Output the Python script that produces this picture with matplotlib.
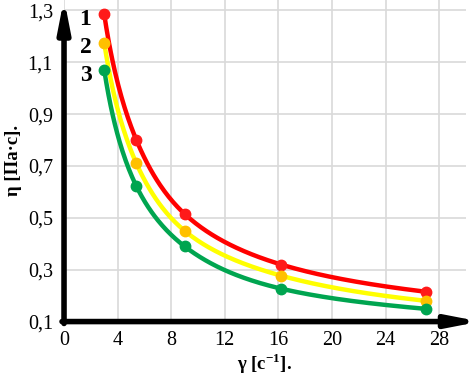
import numpy as np
import matplotlib
matplotlib.use('Agg')
import matplotlib.pyplot as plt

# shear rate, 1/s
gamma = [3.0, 5.4, 9.0, 16.2, 27.0]
# viscosity, Pa*s
eta_1 = [1.285, 0.80, 0.515, 0.32, 0.215]
eta_2 = [1.175, 0.71, 0.45, 0.277, 0.18]
eta_3 = [1.07, 0.622, 0.39, 0.227, 0.149]
curve_names = ['1', '2', '3']

x_ticks = [0, 4, 8, 12, 16, 20, 24, 28]
y_ticks = [0.1, 0.3, 0.5, 0.7, 0.9, 1.1, 1.3]


def pchip(x, y, xs):
    # monotone cubic (Fritsch-Carlson), only used to draw a smooth line
    x = np.asarray(x, float)
    y = np.asarray(y, float)
    h = np.diff(x)
    d = np.diff(y) / h
    m = np.zeros_like(y)
    for k in range(1, len(x) - 1):
        if d[k - 1] * d[k] > 0:
            w1 = 2 * h[k] + h[k - 1]
            w2 = h[k] + 2 * h[k - 1]
            m[k] = (w1 + w2) / (w1 / d[k - 1] + w2 / d[k])
    m[0] = d[0]
    m[-1] = d[-1]
    out = np.empty_like(xs)
    for i, xv in enumerate(xs):
        k = min(np.searchsorted(x, xv, side='right') - 1, len(x) - 2)
        t = (xv - x[k]) / h[k]
        h00 = 2 * t**3 - 3 * t**2 + 1
        h10 = t**3 - 2 * t**2 + t
        h01 = -2 * t**3 + 3 * t**2
        h11 = t**3 - t**2
        out[i] = h00 * y[k] + h10 * h[k] * m[k] + h01 * y[k + 1] + h11 * h[k] * m[k + 1]
    return out


plt.rcParams['font.family'] = ['Liberation Serif', 'DejaVu Serif']

fig = plt.figure(figsize=(4.76, 3.81), dpi=100)
ax = fig.add_axes([0.1345, 0.156, 0.8445, 0.844])

xs = np.linspace(gamma[0], gamma[-1], 300)
series = [(eta_1, '#ff0000', '#ff1a1a'),
          (eta_2, '#ffff00', '#ffc000'),
          (eta_3, '#00a550', '#00a550')]
for eta, lc, mc in series:
    ys = np.exp(pchip(np.log(gamma), np.log(eta), np.log(xs)))
    ax.plot(xs, ys, color=lc, lw=3.2, zorder=3)
    ax.plot(gamma, eta, 'o', color=mc, ms=7.5, zorder=4)

for name, eta in zip(curve_names, [eta_1, eta_2, eta_3]):
    ax.text(1.6, eta[0] - 0.02, name, fontsize=17, fontweight='bold',
            ha='center', va='center')

ax.set_xlim(0, 30)
ax.set_ylim(0.1, 1.34)
ax.set_xticks(x_ticks)
ax.set_yticks(y_ticks)
ax.set_xticklabels([str(v) for v in x_ticks])
ax.set_yticklabels([('%.1f' % v).replace('.', ',') for v in y_ticks])
ax.tick_params(axis='y', length=0, labelsize=14.5, pad=8)
ax.tick_params(axis='x', length=0, labelsize=14.5, pad=7)
ax.grid(True, color='#d9d9d9', lw=1.2)
ax.set_axisbelow(True)
for s in ax.spines.values():
    s.set_visible(False)

# thick axes with arrows
ax.annotate('', xy=(1.035, 0), xytext=(-0.005, 0), xycoords='axes fraction',
            arrowprops=dict(arrowstyle='-|>,head_length=1.8,head_width=0.35',
                            lw=4, color='black', shrinkA=0, shrinkB=0),
            annotation_clip=False)
ax.annotate('', xy=(0, 1.005), xytext=(0, -0.006), xycoords='axes fraction',
            arrowprops=dict(arrowstyle='-|>,head_length=1.8,head_width=0.35',
                            lw=4, color='black', shrinkA=0, shrinkB=0),
            annotation_clip=False)

ax.set_xlabel('γ [с$^{\\mathregular{-1}}$].', fontsize=13.5, fontweight='bold', labelpad=1)
ax.set_ylabel('η [Па·с].', fontsize=13.5, fontweight='bold', labelpad=4)

fig.savefig('out.png', dpi=100)
